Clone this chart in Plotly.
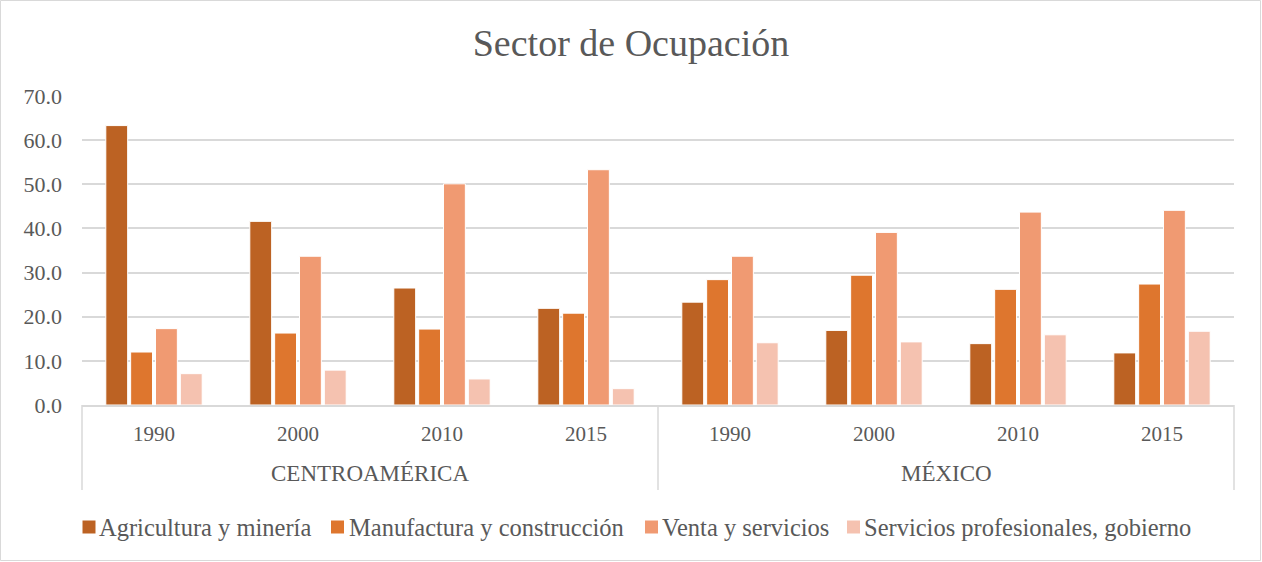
import plotly.graph_objects as go

groups = ["CENTROAMÉRICA"] * 4 + ["MÉXICO"] * 4
years = ["1990", "2000", "2010", "2015"] * 2
group_labels = ["CENTROAMÉRICA", "MÉXICO"]

series_names = ["Agricultura y minería", "Manufactura y construcción",
                "Venta y servicios", "Servicios profesionales, gobierno"]
agricultura = [63.3, 41.6, 26.5, 21.9, 23.3, 16.9, 13.9, 11.8]
manufactura = [12.0, 16.3, 17.2, 20.8, 28.4, 29.4, 26.2, 27.4]
venta = [17.3, 33.7, 50.1, 53.3, 33.7, 39.1, 43.7, 44.1]
servicios = [7.1, 7.9, 5.9, 3.7, 14.1, 14.3, 15.9, 16.7]
colors = ["#BC6223", "#DE762E", "#F09A72", "#F5C2B0"]

W, H = 1262, 562
L, R, T, B = 82, 28, 96, 157
FONT = "Liberation Serif"
GRAY = "#595959"
LINE = "#D9D9D9"

pw, ph = W - L - R, H - T - B


def px_x(x):
    return (x - L) / pw


def px_y(y):
    return (H - B - y) / ph


fig = go.Figure()
for name, vals, c in zip(series_names, [agricultura, manufactura, venta, servicios], colors):
    fig.add_trace(go.Bar(x=[groups, years], y=vals, name=name, showlegend=False,
                         marker=dict(color=c, line=dict(color="white", width=1))))

shapes = []
annotations = []

# outer chart border
shapes.append(dict(type="rect", xref="paper", yref="paper",
                   x0=px_x(0.5), x1=px_x(W - 1.5), y0=px_y(H - 1.5), y1=px_y(0.5),
                   line=dict(color=LINE, width=1), layer="below"))

# category axis box lines (dividers)
n = len(years)
for frac in [0.0, 0.5, 1.0]:
    shapes.append(dict(type="line", xref="paper", yref="paper",
                       x0=frac, x1=frac, y0=0, y1=px_y(490),
                       line=dict(color=LINE, width=1.5)))

# year labels
for i, yr in enumerate(years):
    annotations.append(dict(text=yr, xref="paper", yref="paper", x=(i + 0.5) / n,
                            y=px_y(434), xanchor="center", yanchor="middle", showarrow=False,
                            font=dict(family=FONT, size=21, color=GRAY)))
# group labels
for j, g in enumerate(group_labels):
    annotations.append(dict(text=g, xref="paper", yref="paper", x=(j + 0.5) / len(group_labels),
                            y=px_y(473), xanchor="center", yanchor="middle", showarrow=False,
                            font=dict(family=FONT, size=23, color=GRAY)))

# custom legend
marker_x = [82.5, 331, 645, 847]
text_x = [97, 347, 660, 862]
leg_y = 527
for mx, tx, name, c in zip(marker_x, text_x, series_names, colors):
    shapes.append(dict(type="rect", xref="paper", yref="paper",
                       x0=px_x(mx), x1=px_x(mx + 13), y0=px_y(leg_y + 6.5), y1=px_y(leg_y - 6.5),
                       fillcolor=c, line=dict(width=0)))
    annotations.append(dict(text=name, xref="paper", yref="paper", x=px_x(tx), y=px_y(leg_y),
                            xanchor="left", yanchor="middle", showarrow=False,
                            font=dict(family=FONT, size=24.5, color=GRAY)))

fig.update_layout(
    width=W, height=H,
    margin=dict(l=L, r=R, t=T, b=B),
    paper_bgcolor="white", plot_bgcolor="white",
    barmode="group", bargap=0.31, bargroupgap=0.12,
    title=dict(text="Sector de Ocupación", x=0.5, xanchor="center", y=1 - 43 / H, yanchor="middle",
               font=dict(family=FONT, size=38, color=GRAY)),
    font=dict(family=FONT, color=GRAY),
    yaxis=dict(range=[0, 70], dtick=10, tickformat=".1f", showgrid=True,
               gridcolor=LINE, gridwidth=1.5, zeroline=False, showline=False,
               ticks="", ticklabelstandoff=19,
               tickfont=dict(family=FONT, size=22, color=GRAY)),
    xaxis=dict(showline=True, linecolor=LINE, linewidth=1.5, showticklabels=False,
               showdividers=False, ticks=""),
    showlegend=False,
    shapes=shapes,
    annotations=annotations,
)

fig.write_html("out.html", config={"displayModeBar": False},
               post_script="document.body.style.margin='0';")
